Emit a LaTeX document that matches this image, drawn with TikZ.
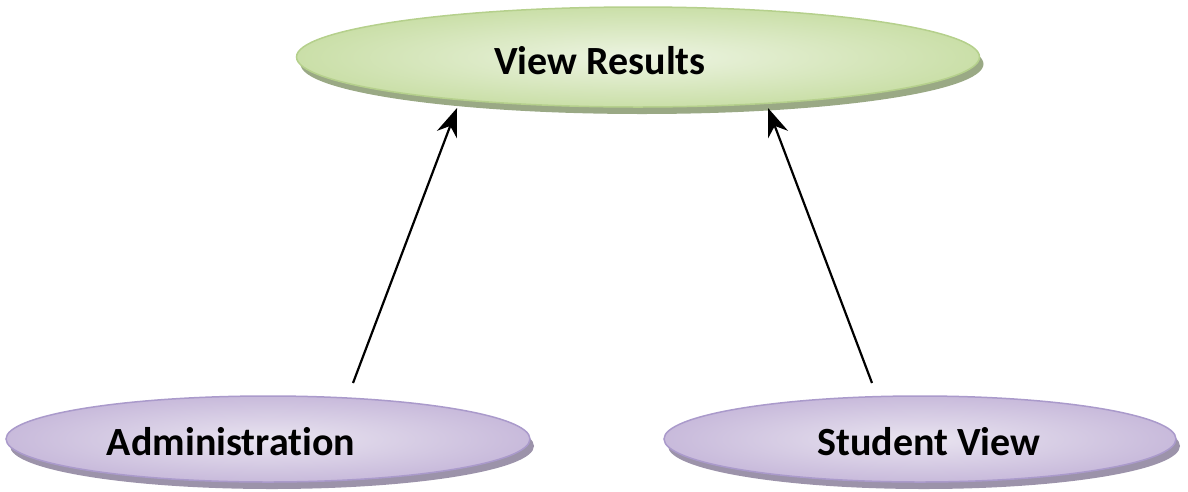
\documentclass[tikz,border=0pt]{standalone}
\usepackage{fontspec}
\setmainfont[Ligatures=NoCommon]{Carlito}
\usetikzlibrary{shapes.geometric,arrows.meta,shadows}
\definecolor{gfillin}{HTML}{EDF4E2}
\definecolor{gfillout}{HTML}{CADFA8}
\definecolor{gborder}{HTML}{B5D08C}
\definecolor{gshadow}{HTML}{9AA985}
\definecolor{pfillin}{HTML}{E9E4F0}
\definecolor{pfillout}{HTML}{C8BADB}
\definecolor{pborder}{HTML}{AA9ACB}
\definecolor{pshadow}{HTML}{9C93AA}
\tikzset{
  casetext/.style={font=\bfseries\fontsize{40}{44}\selectfont},
  usecase/.style={ellipse, inner sep=0pt, line width=1.5pt},
  greencase/.style={usecase, draw=gborder, inner color=gfillin, outer color=gfillout,
    drop shadow={shadow xshift=4pt, shadow yshift=-7pt, fill=gshadow, opacity=1}},
  purplecase/.style={usecase, draw=pborder, inner color=pfillin, outer color=pfillout,
    drop shadow={shadow xshift=4pt, shadow yshift=-7pt, fill=pshadow, opacity=1}},
  link/.style={line width=2.2pt, -{Stealth[scale=2.2]}}
}
\begin{document}
\begin{tikzpicture}[x=1pt,y=-1pt]
\useasboundingbox (0,0) rectangle (1188,491);
% use cases
\node[greencase, minimum width=683pt, minimum height=100pt] (results) at (638,57) {};
\node[casetext] (resultslbl) at (600,61) {View Results};
\node[purplecase, minimum width=524pt, minimum height=86pt] (admin) at (268,439) {};
\node[casetext] (adminlbl) at (231,442) {Administration};
\node[purplecase, minimum width=512pt, minimum height=86pt] (student) at (920,439) {};
\node[casetext] (studentlbl) at (929,442) {Student View};
% connector ends
\coordinate (a1) at (353,383);
\coordinate (t1) at (457,108);
\coordinate (a2) at (872,383);
\coordinate (t2) at (768,108);
\draw[link] (a1) -- (t1);
\draw[link] (a2) -- (t2);
\end{tikzpicture}
\end{document}
